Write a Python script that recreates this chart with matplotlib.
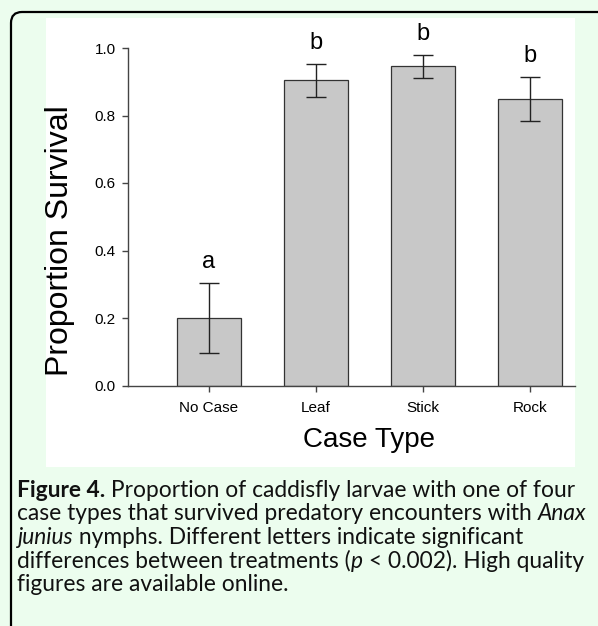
import numpy as np
import matplotlib
matplotlib.use('Agg')
import matplotlib.pyplot as plt
from matplotlib.patches import Rectangle, FancyBboxPatch
from matplotlib.transforms import IdentityTransform
from matplotlib.ticker import FormatStrFormatter

# data
cases = ['No Case', 'Leaf', 'Stick', 'Rock']
survival = [0.20, 0.904, 0.946, 0.849]
sem = [0.105, 0.048, 0.034, 0.064]
letters = ['a', 'b', 'b', 'b']

W, H = 598, 626
bg = '#ECFDEE'
plt.rcParams['font.family'] = ['Liberation Sans', 'DejaVu Sans']

fig = plt.figure(figsize=(W / 100, H / 100), dpi=100, facecolor=bg)

# white panel behind the plot
fig.patches.append(Rectangle((46, H - 467), 529, 449, transform=IdentityTransform(),
                             facecolor='white', edgecolor='none', zorder=0))
# black frame with rounded top-left corner
fig.patches.append(FancyBboxPatch((11, -60), 800, H - 12 + 60,
                                  boxstyle='round,pad=0,rounding_size=11',
                                  transform=IdentityTransform(), facecolor='none',
                                  edgecolor='black', linewidth=1.6, zorder=1))

ax = fig.add_axes([128 / W, 1 - 385.5 / H, 447 / W, 337.5 / H])
ax.set_zorder(5)
ax.set_facecolor('none')
x = np.arange(len(cases))
ax.bar(x, survival, width=0.6, color='#C8C8C8', edgecolor='#333333', linewidth=0.9, zorder=2)
ax.errorbar(x, survival, yerr=sem, fmt='none', ecolor='#222222', elinewidth=1.0,
            capsize=7.5, capthick=1.0, zorder=3)
for i in range(len(cases)):
    ax.annotate(letters[i], (x[i], survival[i] + sem[i]), xytext=(0, 10.8),
                textcoords='offset points', ha='center', va='baseline', fontsize=17)

ax.set_xlim(-0.757, 3.42)
ax.set_ylim(0, 1.0)
ax.set_yticks([0, 0.2, 0.4, 0.6, 0.8, 1.0])
ax.yaxis.set_major_formatter(FormatStrFormatter('%.1f'))
ax.set_xticks(x)
ax.set_xticklabels(cases)
for s in ['top', 'right']:
    ax.spines[s].set_visible(False)
for s in ['left', 'bottom']:
    ax.spines[s].set_color('#444444')
    ax.spines[s].set_linewidth(1.0)
ax.tick_params(axis='both', direction='out', length=4, width=1.0, color='#444444',
               labelsize=11, pad=5)
ax.tick_params(axis='x', pad=7)

ax.set_ylabel('Proportion Survival', fontsize=23)
ax.yaxis.set_label_coords(-0.1186, 0.428)
ax.set_xlabel('Case Type', fontsize=20)
ax.xaxis.set_label_coords(0.540, -0.123)

# caption with mixed styles
renderer = fig.canvas.get_renderer()
cap_font = ['Lato', 'DejaVu Sans']
cap_size = 16.4


def put_line(y, parts, x0=17):
    xp = x0
    for s, weight, style in parts:
        t = fig.text(xp / W, 1 - y / H, s, fontsize=cap_size, family=cap_font,
                     fontweight=weight, fontstyle=style, va='baseline', ha='left', color='#111111')
        xp += t.get_window_extent(renderer).width


N, B, I = 'normal', 'bold', 'italic'
put_line(497, [('Figure 4.', B, 'normal'), (' Proportion of caddisfly larvae with one of four', N, 'normal')])
put_line(520.5, [('case types that survived predatory encounters with ', N, 'normal'), ('Anax', N, I)])
put_line(544, [('junius', N, I), (' nymphs. Different letters indicate significant', N, 'normal')])
put_line(567.5, [('differences between treatments (', N, 'normal'), ('p', N, I),
                 (' < 0.002). High quality', N, 'normal')])
put_line(591, [('figures are available online.', N, 'normal')])

fig.savefig('out.png', dpi=100, facecolor=bg)
